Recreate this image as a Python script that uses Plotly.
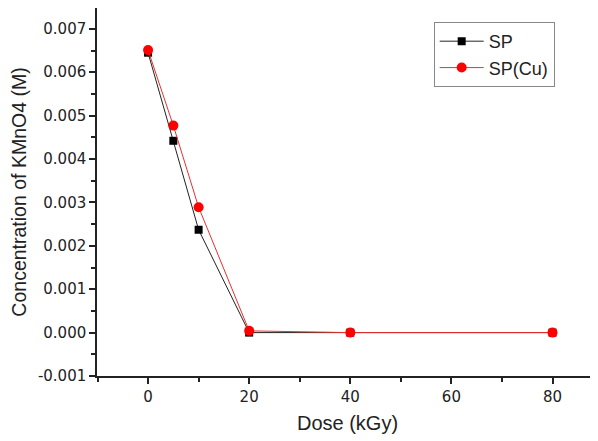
import plotly.graph_objects as go

dose = [0, 5, 10, 20, 40, 80]
sp = [0.00645, 0.00442, 0.00237, 0.0000, 0.0, 0.0]
sp_cu = [0.00651, 0.00477, 0.00289, 0.00004, 0.0, 0.0]

y_tickvals = [-0.001, 0.0, 0.001, 0.002, 0.003, 0.004, 0.005, 0.006, 0.007]
y_ticktext = ["-0.001", "0.000", "0.001", "0.002", "0.003", "0.004", "0.005", "0.006", "0.007"]
x_tickvals = [0, 20, 40, 60, 80]

fig = go.Figure()
fig.add_trace(go.Scatter(x=dose, y=sp, mode="lines+markers", name="SP",
                         line=dict(color="#222222", width=1),
                         marker=dict(symbol="square", size=8, color="black")))
fig.add_trace(go.Scatter(x=dose, y=sp_cu, mode="lines+markers", name="SP(Cu)",
                         line=dict(color="#e83030", width=1),
                         marker=dict(symbol="circle", size=10, color="#ff0000")))

font = "Liberation Sans, Arial, sans-serif"
tickfont = dict(family="DejaVu Sans, sans-serif", size=15, color="#222222")
fig.update_layout(
    width=590, height=433,
    margin=dict(l=89, r=0, t=0, b=65),
    paper_bgcolor="white", plot_bgcolor="white",
    font=dict(family=font, size=14, color="#222222"),
    showlegend=True,
    legend=dict(x=0.672, y=0.962, xanchor="left", yanchor="top",
                bordercolor="#888888", borderwidth=1, bgcolor="white",
                font=dict(size=18, family=font, color="#222222"),
                tracegroupgap=0, itemwidth=44),
    xaxis=dict(range=[-10.1, 89.0], tickmode="array", tickvals=x_tickvals,
               ticks="outside", ticklen=6, tickwidth=1.5, tickcolor="#222222",
               showline=True, linecolor="#222222", linewidth=1.5, mirror=True,
               showgrid=False, zeroline=False, automargin=False,
               minor=dict(ticks="outside", ticklen=4, tickwidth=1.5, tickcolor="#222222",
                          tickmode="linear", tick0=10, dtick=20),
               title=dict(text="Dose (kGy)", font=dict(size=20), standoff=11),
               tickfont=tickfont),
    yaxis=dict(range=[-0.001, 0.00748], tickmode="array", tickvals=y_tickvals, ticktext=y_ticktext,
               ticks="outside", ticklen=6, tickwidth=1.5, tickcolor="#222222",
               showline=True, linecolor="#222222", linewidth=1.5, mirror=False,
               showgrid=False, zeroline=False, automargin=False,
               minor=dict(ticks="outside", ticklen=4, tickwidth=1.5, tickcolor="#222222",
                          tickmode="linear", tick0=-0.0005, dtick=0.001),
               title=dict(text="Concentration of KMnO4 (M)", font=dict(size=19.5), standoff=8),
               tickfont=tickfont),
)
fig.write_html("out.html")
